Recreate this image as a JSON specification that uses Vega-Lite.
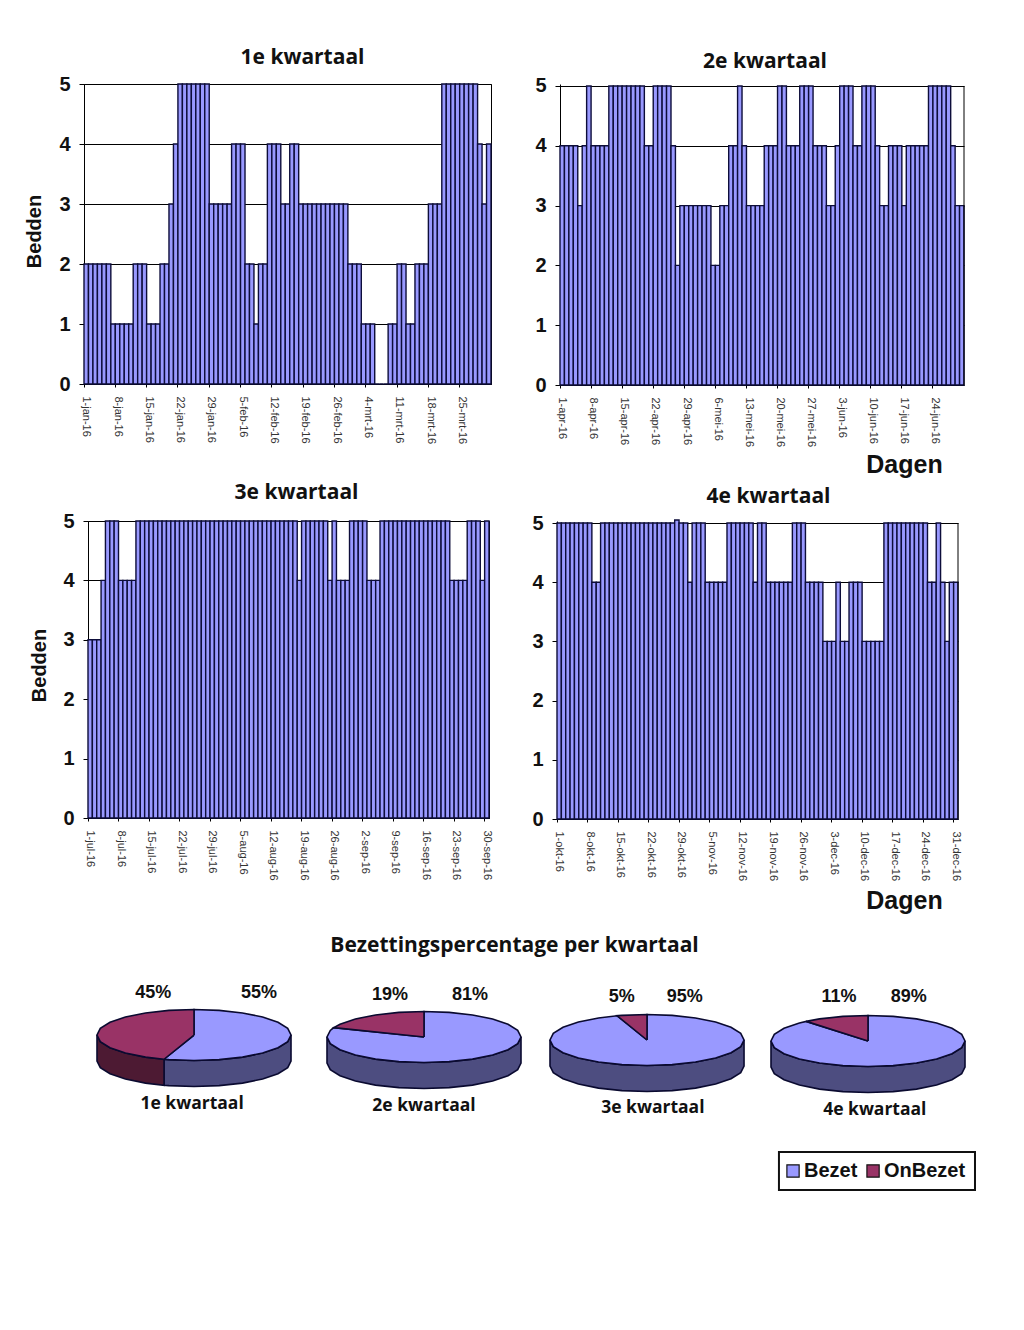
{"$schema":"https://vega.github.io/schema/vega-lite/v6.json","background":"white","padding":{"left":0,"top":46,"right":0,"bottom":0},"config":{"view":{"stroke":null},"axis":{"labelFont":"Liberation Sans","titleFont":"Liberation Sans"},"title":{"font":"Open Sans","fontWeight":"bold","fontSize":21,"color":"#111"}},
"datasets":{
"q1":[{"d":"1-jan-16","v":2},{"d":"2-jan-16","v":2},{"d":"3-jan-16","v":2},{"d":"4-jan-16","v":2},{"d":"5-jan-16","v":2},{"d":"6-jan-16","v":2},{"d":"7-jan-16","v":1},{"d":"8-jan-16","v":1},{"d":"9-jan-16","v":1},{"d":"10-jan-16","v":1},{"d":"11-jan-16","v":1},{"d":"12-jan-16","v":2},{"d":"13-jan-16","v":2},{"d":"14-jan-16","v":2},{"d":"15-jan-16","v":1},{"d":"16-jan-16","v":1},{"d":"17-jan-16","v":1},{"d":"18-jan-16","v":2},{"d":"19-jan-16","v":2},{"d":"20-jan-16","v":3},{"d":"21-jan-16","v":4},{"d":"22-jan-16","v":5},{"d":"23-jan-16","v":5},{"d":"24-jan-16","v":5},{"d":"25-jan-16","v":5},{"d":"26-jan-16","v":5},{"d":"27-jan-16","v":5},{"d":"28-jan-16","v":5},{"d":"29-jan-16","v":3},{"d":"30-jan-16","v":3},{"d":"31-jan-16","v":3},{"d":"1-feb-16","v":3},{"d":"2-feb-16","v":3},{"d":"3-feb-16","v":4},{"d":"4-feb-16","v":4},{"d":"5-feb-16","v":4},{"d":"6-feb-16","v":2},{"d":"7-feb-16","v":2},{"d":"8-feb-16","v":1},{"d":"9-feb-16","v":2},{"d":"10-feb-16","v":2},{"d":"11-feb-16","v":4},{"d":"12-feb-16","v":4},{"d":"13-feb-16","v":4},{"d":"14-feb-16","v":3},{"d":"15-feb-16","v":3},{"d":"16-feb-16","v":4},{"d":"17-feb-16","v":4},{"d":"18-feb-16","v":3},{"d":"19-feb-16","v":3},{"d":"20-feb-16","v":3},{"d":"21-feb-16","v":3},{"d":"22-feb-16","v":3},{"d":"23-feb-16","v":3},{"d":"24-feb-16","v":3},{"d":"25-feb-16","v":3},{"d":"26-feb-16","v":3},{"d":"27-feb-16","v":3},{"d":"28-feb-16","v":3},{"d":"29-feb-16","v":2},{"d":"1-mrt-16","v":2},{"d":"2-mrt-16","v":2},{"d":"3-mrt-16","v":1},{"d":"4-mrt-16","v":1},{"d":"5-mrt-16","v":1},{"d":"6-mrt-16","v":0},{"d":"7-mrt-16","v":0},{"d":"8-mrt-16","v":0},{"d":"9-mrt-16","v":1},{"d":"10-mrt-16","v":1},{"d":"11-mrt-16","v":2},{"d":"12-mrt-16","v":2},{"d":"13-mrt-16","v":1},{"d":"14-mrt-16","v":1},{"d":"15-mrt-16","v":2},{"d":"16-mrt-16","v":2},{"d":"17-mrt-16","v":2},{"d":"18-mrt-16","v":3},{"d":"19-mrt-16","v":3},{"d":"20-mrt-16","v":3},{"d":"21-mrt-16","v":5},{"d":"22-mrt-16","v":5},{"d":"23-mrt-16","v":5},{"d":"24-mrt-16","v":5},{"d":"25-mrt-16","v":5},{"d":"26-mrt-16","v":5},{"d":"27-mrt-16","v":5},{"d":"28-mrt-16","v":5},{"d":"29-mrt-16","v":4},{"d":"30-mrt-16","v":3},{"d":"31-mrt-16","v":4}],
"q2":[{"d":"1-apr-16","v":4},{"d":"2-apr-16","v":4},{"d":"3-apr-16","v":4},{"d":"4-apr-16","v":4},{"d":"5-apr-16","v":3},{"d":"6-apr-16","v":4},{"d":"7-apr-16","v":5},{"d":"8-apr-16","v":4},{"d":"9-apr-16","v":4},{"d":"10-apr-16","v":4},{"d":"11-apr-16","v":4},{"d":"12-apr-16","v":5},{"d":"13-apr-16","v":5},{"d":"14-apr-16","v":5},{"d":"15-apr-16","v":5},{"d":"16-apr-16","v":5},{"d":"17-apr-16","v":5},{"d":"18-apr-16","v":5},{"d":"19-apr-16","v":5},{"d":"20-apr-16","v":4},{"d":"21-apr-16","v":4},{"d":"22-apr-16","v":5},{"d":"23-apr-16","v":5},{"d":"24-apr-16","v":5},{"d":"25-apr-16","v":5},{"d":"26-apr-16","v":4},{"d":"27-apr-16","v":2},{"d":"28-apr-16","v":3},{"d":"29-apr-16","v":3},{"d":"30-apr-16","v":3},{"d":"1-mei-16","v":3},{"d":"2-mei-16","v":3},{"d":"3-mei-16","v":3},{"d":"4-mei-16","v":3},{"d":"5-mei-16","v":2},{"d":"6-mei-16","v":2},{"d":"7-mei-16","v":3},{"d":"8-mei-16","v":3},{"d":"9-mei-16","v":4},{"d":"10-mei-16","v":4},{"d":"11-mei-16","v":5},{"d":"12-mei-16","v":4},{"d":"13-mei-16","v":3},{"d":"14-mei-16","v":3},{"d":"15-mei-16","v":3},{"d":"16-mei-16","v":3},{"d":"17-mei-16","v":4},{"d":"18-mei-16","v":4},{"d":"19-mei-16","v":4},{"d":"20-mei-16","v":5},{"d":"21-mei-16","v":5},{"d":"22-mei-16","v":4},{"d":"23-mei-16","v":4},{"d":"24-mei-16","v":4},{"d":"25-mei-16","v":5},{"d":"26-mei-16","v":5},{"d":"27-mei-16","v":5},{"d":"28-mei-16","v":4},{"d":"29-mei-16","v":4},{"d":"30-mei-16","v":4},{"d":"31-mei-16","v":3},{"d":"1-jun-16","v":3},{"d":"2-jun-16","v":4},{"d":"3-jun-16","v":5},{"d":"4-jun-16","v":5},{"d":"5-jun-16","v":5},{"d":"6-jun-16","v":4},{"d":"7-jun-16","v":4},{"d":"8-jun-16","v":5},{"d":"9-jun-16","v":5},{"d":"10-jun-16","v":5},{"d":"11-jun-16","v":4},{"d":"12-jun-16","v":3},{"d":"13-jun-16","v":3},{"d":"14-jun-16","v":4},{"d":"15-jun-16","v":4},{"d":"16-jun-16","v":4},{"d":"17-jun-16","v":3},{"d":"18-jun-16","v":4},{"d":"19-jun-16","v":4},{"d":"20-jun-16","v":4},{"d":"21-jun-16","v":4},{"d":"22-jun-16","v":4},{"d":"23-jun-16","v":5},{"d":"24-jun-16","v":5},{"d":"25-jun-16","v":5},{"d":"26-jun-16","v":5},{"d":"27-jun-16","v":5},{"d":"28-jun-16","v":4},{"d":"29-jun-16","v":3},{"d":"30-jun-16","v":3}],
"q3":[{"d":"1-jul-16","v":3},{"d":"2-jul-16","v":3},{"d":"3-jul-16","v":3},{"d":"4-jul-16","v":4},{"d":"5-jul-16","v":5},{"d":"6-jul-16","v":5},{"d":"7-jul-16","v":5},{"d":"8-jul-16","v":4},{"d":"9-jul-16","v":4},{"d":"10-jul-16","v":4},{"d":"11-jul-16","v":4},{"d":"12-jul-16","v":5},{"d":"13-jul-16","v":5},{"d":"14-jul-16","v":5},{"d":"15-jul-16","v":5},{"d":"16-jul-16","v":5},{"d":"17-jul-16","v":5},{"d":"18-jul-16","v":5},{"d":"19-jul-16","v":5},{"d":"20-jul-16","v":5},{"d":"21-jul-16","v":5},{"d":"22-jul-16","v":5},{"d":"23-jul-16","v":5},{"d":"24-jul-16","v":5},{"d":"25-jul-16","v":5},{"d":"26-jul-16","v":5},{"d":"27-jul-16","v":5},{"d":"28-jul-16","v":5},{"d":"29-jul-16","v":5},{"d":"30-jul-16","v":5},{"d":"31-jul-16","v":5},{"d":"1-aug-16","v":5},{"d":"2-aug-16","v":5},{"d":"3-aug-16","v":5},{"d":"4-aug-16","v":5},{"d":"5-aug-16","v":5},{"d":"6-aug-16","v":5},{"d":"7-aug-16","v":5},{"d":"8-aug-16","v":5},{"d":"9-aug-16","v":5},{"d":"10-aug-16","v":5},{"d":"11-aug-16","v":5},{"d":"12-aug-16","v":5},{"d":"13-aug-16","v":5},{"d":"14-aug-16","v":5},{"d":"15-aug-16","v":5},{"d":"16-aug-16","v":5},{"d":"17-aug-16","v":5},{"d":"18-aug-16","v":4},{"d":"19-aug-16","v":5},{"d":"20-aug-16","v":5},{"d":"21-aug-16","v":5},{"d":"22-aug-16","v":5},{"d":"23-aug-16","v":5},{"d":"24-aug-16","v":5},{"d":"25-aug-16","v":4},{"d":"26-aug-16","v":5},{"d":"27-aug-16","v":4},{"d":"28-aug-16","v":4},{"d":"29-aug-16","v":4},{"d":"30-aug-16","v":5},{"d":"31-aug-16","v":5},{"d":"1-sep-16","v":5},{"d":"2-sep-16","v":5},{"d":"3-sep-16","v":4},{"d":"4-sep-16","v":4},{"d":"5-sep-16","v":4},{"d":"6-sep-16","v":5},{"d":"7-sep-16","v":5},{"d":"8-sep-16","v":5},{"d":"9-sep-16","v":5},{"d":"10-sep-16","v":5},{"d":"11-sep-16","v":5},{"d":"12-sep-16","v":5},{"d":"13-sep-16","v":5},{"d":"14-sep-16","v":5},{"d":"15-sep-16","v":5},{"d":"16-sep-16","v":5},{"d":"17-sep-16","v":5},{"d":"18-sep-16","v":5},{"d":"19-sep-16","v":5},{"d":"20-sep-16","v":5},{"d":"21-sep-16","v":5},{"d":"22-sep-16","v":4},{"d":"23-sep-16","v":4},{"d":"24-sep-16","v":4},{"d":"25-sep-16","v":4},{"d":"26-sep-16","v":5},{"d":"27-sep-16","v":5},{"d":"28-sep-16","v":5},{"d":"29-sep-16","v":4},{"d":"30-sep-16","v":5}],
"q4":[{"d":"1-okt-16","v":5},{"d":"2-okt-16","v":5},{"d":"3-okt-16","v":5},{"d":"4-okt-16","v":5},{"d":"5-okt-16","v":5},{"d":"6-okt-16","v":5},{"d":"7-okt-16","v":5},{"d":"8-okt-16","v":5},{"d":"9-okt-16","v":4},{"d":"10-okt-16","v":4},{"d":"11-okt-16","v":5},{"d":"12-okt-16","v":5},{"d":"13-okt-16","v":5},{"d":"14-okt-16","v":5},{"d":"15-okt-16","v":5},{"d":"16-okt-16","v":5},{"d":"17-okt-16","v":5},{"d":"18-okt-16","v":5},{"d":"19-okt-16","v":5},{"d":"20-okt-16","v":5},{"d":"21-okt-16","v":5},{"d":"22-okt-16","v":5},{"d":"23-okt-16","v":5},{"d":"24-okt-16","v":5},{"d":"25-okt-16","v":5},{"d":"26-okt-16","v":5},{"d":"27-okt-16","v":5},{"d":"28-okt-16","v":5.05},{"d":"29-okt-16","v":5},{"d":"30-okt-16","v":5},{"d":"31-okt-16","v":4},{"d":"1-nov-16","v":5},{"d":"2-nov-16","v":5},{"d":"3-nov-16","v":5},{"d":"4-nov-16","v":4},{"d":"5-nov-16","v":4},{"d":"6-nov-16","v":4},{"d":"7-nov-16","v":4},{"d":"8-nov-16","v":4},{"d":"9-nov-16","v":5},{"d":"10-nov-16","v":5},{"d":"11-nov-16","v":5},{"d":"12-nov-16","v":5},{"d":"13-nov-16","v":5},{"d":"14-nov-16","v":5},{"d":"15-nov-16","v":4},{"d":"16-nov-16","v":5},{"d":"17-nov-16","v":5},{"d":"18-nov-16","v":4},{"d":"19-nov-16","v":4},{"d":"20-nov-16","v":4},{"d":"21-nov-16","v":4},{"d":"22-nov-16","v":4},{"d":"23-nov-16","v":4},{"d":"24-nov-16","v":5},{"d":"25-nov-16","v":5},{"d":"26-nov-16","v":5},{"d":"27-nov-16","v":4},{"d":"28-nov-16","v":4},{"d":"29-nov-16","v":4},{"d":"30-nov-16","v":4},{"d":"1-dec-16","v":3},{"d":"2-dec-16","v":3},{"d":"3-dec-16","v":3},{"d":"4-dec-16","v":4},{"d":"5-dec-16","v":3},{"d":"6-dec-16","v":3},{"d":"7-dec-16","v":4},{"d":"8-dec-16","v":4},{"d":"9-dec-16","v":4},{"d":"10-dec-16","v":3},{"d":"11-dec-16","v":3},{"d":"12-dec-16","v":3},{"d":"13-dec-16","v":3},{"d":"14-dec-16","v":3},{"d":"15-dec-16","v":5},{"d":"16-dec-16","v":5},{"d":"17-dec-16","v":5},{"d":"18-dec-16","v":5},{"d":"19-dec-16","v":5},{"d":"20-dec-16","v":5},{"d":"21-dec-16","v":5},{"d":"22-dec-16","v":5},{"d":"23-dec-16","v":5},{"d":"24-dec-16","v":5},{"d":"25-dec-16","v":4},{"d":"26-dec-16","v":4},{"d":"27-dec-16","v":5},{"d":"28-dec-16","v":4},{"d":"29-dec-16","v":3},{"d":"30-dec-16","v":4},{"d":"31-dec-16","v":4}],
"pie1":[{"p":"Bezet zijkant","x":1,"y":0},{"p":"Bezet zijkant","x":0.966,"y":-0.259},{"p":"Bezet zijkant","x":0.866,"y":-0.5},{"p":"Bezet zijkant","x":0.707,"y":-0.707},{"p":"Bezet zijkant","x":0.5,"y":-0.866},{"p":"Bezet zijkant","x":0.259,"y":-0.966},{"p":"Bezet zijkant","x":0,"y":-1},{"p":"Bezet zijkant","x":-0.259,"y":-0.966},{"p":"Bezet zijkant","x":-0.309,"y":-0.951},{"p":"Bezet zijkant","x":-0.309,"y":-1.971},{"p":"Bezet zijkant","x":-0.259,"y":-1.986},{"p":"Bezet zijkant","x":0,"y":-2.02},{"p":"Bezet zijkant","x":0.259,"y":-1.986},{"p":"Bezet zijkant","x":0.5,"y":-1.886},{"p":"Bezet zijkant","x":0.707,"y":-1.727},{"p":"Bezet zijkant","x":0.866,"y":-1.52},{"p":"Bezet zijkant","x":0.966,"y":-1.279},{"p":"Bezet zijkant","x":1,"y":-1.02},{"p":"Bezet zijkant","x":1,"y":0},
{"p":"OnBezet zijkant","x":-0.309,"y":-0.951},{"p":"OnBezet zijkant","x":-0.5,"y":-0.866},{"p":"OnBezet zijkant","x":-0.707,"y":-0.707},{"p":"OnBezet zijkant","x":-0.866,"y":-0.5},{"p":"OnBezet zijkant","x":-0.966,"y":-0.259},{"p":"OnBezet zijkant","x":-1,"y":0},{"p":"OnBezet zijkant","x":-1,"y":-1.02},{"p":"OnBezet zijkant","x":-0.966,"y":-1.279},{"p":"OnBezet zijkant","x":-0.866,"y":-1.52},{"p":"OnBezet zijkant","x":-0.707,"y":-1.727},{"p":"OnBezet zijkant","x":-0.5,"y":-1.886},{"p":"OnBezet zijkant","x":-0.309,"y":-1.971},{"p":"OnBezet zijkant","x":-0.309,"y":-0.951},
{"p":"Bezet","x":0,"y":0},{"p":"Bezet","x":0,"y":1},{"p":"Bezet","x":0.259,"y":0.966},{"p":"Bezet","x":0.5,"y":0.866},{"p":"Bezet","x":0.707,"y":0.707},{"p":"Bezet","x":0.866,"y":0.5},{"p":"Bezet","x":0.966,"y":0.259},{"p":"Bezet","x":1,"y":0},{"p":"Bezet","x":0.966,"y":-0.259},{"p":"Bezet","x":0.866,"y":-0.5},{"p":"Bezet","x":0.707,"y":-0.707},{"p":"Bezet","x":0.5,"y":-0.866},{"p":"Bezet","x":0.259,"y":-0.966},{"p":"Bezet","x":0,"y":-1},{"p":"Bezet","x":-0.259,"y":-0.966},{"p":"Bezet","x":-0.309,"y":-0.951},{"p":"Bezet","x":0,"y":0},
{"p":"OnBezet","x":0,"y":0},{"p":"OnBezet","x":-0.309,"y":-0.951},{"p":"OnBezet","x":-0.5,"y":-0.866},{"p":"OnBezet","x":-0.707,"y":-0.707},{"p":"OnBezet","x":-0.866,"y":-0.5},{"p":"OnBezet","x":-0.966,"y":-0.259},{"p":"OnBezet","x":-1,"y":0},{"p":"OnBezet","x":-0.966,"y":0.259},{"p":"OnBezet","x":-0.866,"y":0.5},{"p":"OnBezet","x":-0.707,"y":0.707},{"p":"OnBezet","x":-0.5,"y":0.866},{"p":"OnBezet","x":-0.259,"y":0.966},{"p":"OnBezet","x":0,"y":1},{"p":"OnBezet","x":0,"y":0}],
"wand":[{"p":"Bezet zijkant","x":1,"y":0},{"p":"Bezet zijkant","x":0.966,"y":-0.259},{"p":"Bezet zijkant","x":0.866,"y":-0.5},{"p":"Bezet zijkant","x":0.707,"y":-0.707},{"p":"Bezet zijkant","x":0.5,"y":-0.866},{"p":"Bezet zijkant","x":0.259,"y":-0.966},{"p":"Bezet zijkant","x":0,"y":-1},{"p":"Bezet zijkant","x":-0.259,"y":-0.966},{"p":"Bezet zijkant","x":-0.5,"y":-0.866},{"p":"Bezet zijkant","x":-0.707,"y":-0.707},{"p":"Bezet zijkant","x":-0.866,"y":-0.5},{"p":"Bezet zijkant","x":-0.966,"y":-0.259},{"p":"Bezet zijkant","x":-1,"y":0},{"p":"Bezet zijkant","x":-1,"y":-1.02},{"p":"Bezet zijkant","x":-0.966,"y":-1.279},{"p":"Bezet zijkant","x":-0.866,"y":-1.52},{"p":"Bezet zijkant","x":-0.707,"y":-1.727},{"p":"Bezet zijkant","x":-0.5,"y":-1.886},{"p":"Bezet zijkant","x":-0.259,"y":-1.986},{"p":"Bezet zijkant","x":0,"y":-2.02},{"p":"Bezet zijkant","x":0.259,"y":-1.986},{"p":"Bezet zijkant","x":0.5,"y":-1.886},{"p":"Bezet zijkant","x":0.707,"y":-1.727},{"p":"Bezet zijkant","x":0.866,"y":-1.52},{"p":"Bezet zijkant","x":0.966,"y":-1.279},{"p":"Bezet zijkant","x":1,"y":-1.02},{"p":"Bezet zijkant","x":1,"y":0}],
"pie2":[{"p":"Bezet","x":0,"y":0},{"p":"Bezet","x":0,"y":1},{"p":"Bezet","x":0.259,"y":0.966},{"p":"Bezet","x":0.5,"y":0.866},{"p":"Bezet","x":0.707,"y":0.707},{"p":"Bezet","x":0.866,"y":0.5},{"p":"Bezet","x":0.966,"y":0.259},{"p":"Bezet","x":1,"y":0},{"p":"Bezet","x":0.966,"y":-0.259},{"p":"Bezet","x":0.866,"y":-0.5},{"p":"Bezet","x":0.707,"y":-0.707},{"p":"Bezet","x":0.5,"y":-0.866},{"p":"Bezet","x":0.259,"y":-0.966},{"p":"Bezet","x":0,"y":-1},{"p":"Bezet","x":-0.259,"y":-0.966},{"p":"Bezet","x":-0.5,"y":-0.866},{"p":"Bezet","x":-0.707,"y":-0.707},{"p":"Bezet","x":-0.866,"y":-0.5},{"p":"Bezet","x":-0.966,"y":-0.259},{"p":"Bezet","x":-1,"y":0},{"p":"Bezet","x":-0.966,"y":0.259},{"p":"Bezet","x":-0.93,"y":0.368},{"p":"Bezet","x":0,"y":0},
{"p":"OnBezet","x":0,"y":0},{"p":"OnBezet","x":-0.93,"y":0.368},{"p":"OnBezet","x":-0.866,"y":0.5},{"p":"OnBezet","x":-0.707,"y":0.707},{"p":"OnBezet","x":-0.5,"y":0.866},{"p":"OnBezet","x":-0.259,"y":0.966},{"p":"OnBezet","x":0,"y":1},{"p":"OnBezet","x":0,"y":0}],
"pie3":[{"p":"Bezet","x":0,"y":0},{"p":"Bezet","x":0,"y":1},{"p":"Bezet","x":0.259,"y":0.966},{"p":"Bezet","x":0.5,"y":0.866},{"p":"Bezet","x":0.707,"y":0.707},{"p":"Bezet","x":0.866,"y":0.5},{"p":"Bezet","x":0.966,"y":0.259},{"p":"Bezet","x":1,"y":0},{"p":"Bezet","x":0.966,"y":-0.259},{"p":"Bezet","x":0.866,"y":-0.5},{"p":"Bezet","x":0.707,"y":-0.707},{"p":"Bezet","x":0.5,"y":-0.866},{"p":"Bezet","x":0.259,"y":-0.966},{"p":"Bezet","x":0,"y":-1},{"p":"Bezet","x":-0.259,"y":-0.966},{"p":"Bezet","x":-0.5,"y":-0.866},{"p":"Bezet","x":-0.707,"y":-0.707},{"p":"Bezet","x":-0.866,"y":-0.5},{"p":"Bezet","x":-0.966,"y":-0.259},{"p":"Bezet","x":-1,"y":0},{"p":"Bezet","x":-0.966,"y":0.259},{"p":"Bezet","x":-0.866,"y":0.5},{"p":"Bezet","x":-0.707,"y":0.707},{"p":"Bezet","x":-0.5,"y":0.866},{"p":"Bezet","x":-0.309,"y":0.951},{"p":"Bezet","x":0,"y":0},
{"p":"OnBezet","x":0,"y":0},{"p":"OnBezet","x":-0.309,"y":0.951},{"p":"OnBezet","x":-0.259,"y":0.966},{"p":"OnBezet","x":0,"y":1},{"p":"OnBezet","x":0,"y":0}],
"pie4":[{"p":"Bezet","x":0,"y":0},{"p":"Bezet","x":0,"y":1},{"p":"Bezet","x":0.259,"y":0.966},{"p":"Bezet","x":0.5,"y":0.866},{"p":"Bezet","x":0.707,"y":0.707},{"p":"Bezet","x":0.866,"y":0.5},{"p":"Bezet","x":0.966,"y":0.259},{"p":"Bezet","x":1,"y":0},{"p":"Bezet","x":0.966,"y":-0.259},{"p":"Bezet","x":0.866,"y":-0.5},{"p":"Bezet","x":0.707,"y":-0.707},{"p":"Bezet","x":0.5,"y":-0.866},{"p":"Bezet","x":0.259,"y":-0.966},{"p":"Bezet","x":0,"y":-1},{"p":"Bezet","x":-0.259,"y":-0.966},{"p":"Bezet","x":-0.5,"y":-0.866},{"p":"Bezet","x":-0.707,"y":-0.707},{"p":"Bezet","x":-0.866,"y":-0.5},{"p":"Bezet","x":-0.966,"y":-0.259},{"p":"Bezet","x":-1,"y":0},{"p":"Bezet","x":-0.966,"y":0.259},{"p":"Bezet","x":-0.866,"y":0.5},{"p":"Bezet","x":-0.707,"y":0.707},{"p":"Bezet","x":-0.637,"y":0.77},{"p":"Bezet","x":0,"y":0},
{"p":"OnBezet","x":0,"y":0},{"p":"OnBezet","x":-0.637,"y":0.77},{"p":"OnBezet","x":-0.5,"y":0.866},{"p":"OnBezet","x":-0.259,"y":0.966},{"p":"OnBezet","x":0,"y":1},{"p":"OnBezet","x":0,"y":0}],
"lab":[{"pie":1,"k":"pct","t":"45%","x":-0.42,"y":1.65},{"pie":1,"k":"pct","t":"55%","x":0.67,"y":1.65},{"pie":1,"k":"cap","t":"1e kwartaal","x":-0.02,"y":-2.71},
{"pie":2,"k":"pct","t":"19%","x":-0.35,"y":1.65},{"pie":2,"k":"pct","t":"81%","x":0.474,"y":1.65},{"pie":2,"k":"cap","t":"2e kwartaal","x":0,"y":-2.71},
{"pie":3,"k":"pct","t":"5%","x":-0.26,"y":1.69},{"pie":3,"k":"pct","t":"95%","x":0.39,"y":1.69},{"pie":3,"k":"cap","t":"3e kwartaal","x":0.06,"y":-2.67},
{"pie":4,"k":"pct","t":"11%","x":-0.3,"y":1.73},{"pie":4,"k":"pct","t":"89%","x":0.42,"y":1.73},{"pie":4,"k":"cap","t":"4e kwartaal","x":0.07,"y":-2.71}],
"legendaKader":[{"x":-0.918,"x2":1.103,"y":-4.353,"y2":-5.843}],
"legenda":[{"p":"Bezet","t":"Bezet","sx":-0.773,"x":-0.66,"y":-5.098},{"p":"OnBezet","t":"OnBezet","sx":0.052,"x":0.165,"y":-5.098}]
},
"spacing":437,"bounds":"flush","center":false,
"vconcat":[
{"spacing":0,"bounds":"flush","center":false,"hconcat":[
{"width":84,"height":1,"data":{"values":[]},"mark":"point"},
{"width":407,"height":300,"view":{"stroke":"#000"},"title":{"text":"1e kwartaal","dx":15,"offset":6},"data":{"name":"q1"},"mark":{"type":"bar","fill":"#9999FF","stroke":"#0d0d3a","strokeWidth":1.4},
"encoding":{"x":{"field":"d","type":"nominal","sort":null,"scale":{"padding":0},"axis":{"title":null,"bandPosition":0,"values":["1-jan-16","8-jan-16","15-jan-16","22-jan-16","29-jan-16","5-feb-16","12-feb-16","19-feb-16","26-feb-16","4-mrt-16","11-mrt-16","18-mrt-16","25-mrt-16"],"labelAngle":90,"labelFontSize":11,"labelColor":"#333","labelPadding":9,"tickSize":3,"tickColor":"#000","domainColor":"#000","labelOverlap":false}},
"y":{"field":"v","type":"quantitative","scale":{"domain":[0,5],"nice":false},"axis":{"title":"Bedden","titleFontSize":20,"titleFontWeight":"bold","titleColor":"#111","titleX":-50,"titleY":147,"titleBaseline":"middle","values":[0,1,2,3,4,5],"format":"d","labelFontSize":20,"labelFontWeight":"bold","labelColor":"#111","labelPadding":9,"tickSize":5,"tickColor":"#000","domainColor":"#000","grid":true,"gridColor":"#000"}}}},
{"width":69,"height":1,"data":{"values":[]},"mark":"point"},
{"width":404,"height":301,"title":{"text":"2e kwartaal","dx":3,"offset":4},
"encoding":{"x":{"field":"d","type":"nominal","sort":null,"scale":{"padding":0},"axis":{"title":"Dagen","titleX":344,"titleY":67,"titleFontSize":25,"titleFontWeight":"bold","titleColor":"#111","bandPosition":0,"values":["1-apr-16","8-apr-16","15-apr-16","22-apr-16","29-apr-16","6-mei-16","13-mei-16","20-mei-16","27-mei-16","3-jun-16","10-jun-16","17-jun-16","24-jun-16"],"labelAngle":90,"labelFontSize":11,"labelColor":"#333","labelPadding":9,"tickSize":3,"tickColor":"#000","domainColor":"#000","labelOverlap":false}},
"y":{"field":"v","type":"quantitative","scale":{"domain":[0,5.033],"nice":false},"axis":{"title":null,"values":[0,1,2,3,4,5],"format":"d","labelFontSize":20,"labelFontWeight":"bold","labelColor":"#111","labelPadding":9,"tickSize":5,"tickColor":"#000","domainColor":"#000","grid":true,"gridColor":"#000"}}},
"layer":[{"data":{"name":"q2"},"mark":{"type":"bar","fill":"#9999FF","stroke":"#0d0d3a","strokeWidth":1.4}},
{"data":{"name":"q2"},"transform":[{"filter":"datum.d=='30-jun-16'"}],"mark":{"type":"rule","stroke":"#000","strokeWidth":1},"encoding":{"x":{"field":"d","type":"nominal","bandPosition":1},"y":{"datum":0},"y2":{"datum":5}}}]}
]},
{"spacing":0,"bounds":"flush","center":false,"hconcat":[
{"width":88,"height":1,"data":{"values":[]},"mark":"point"},
{"width":401,"height":297,"view":{"stroke":"#000"},"title":{"text":"3e kwartaal","dx":8,"offset":8},"data":{"name":"q3"},"mark":{"type":"bar","fill":"#9999FF","stroke":"#0d0d3a","strokeWidth":1.4},
"encoding":{"x":{"field":"d","type":"nominal","sort":null,"scale":{"padding":0},"axis":{"title":null,"bandPosition":0,"values":["1-jul-16","8-jul-16","15-jul-16","22-jul-16","29-jul-16","5-aug-16","12-aug-16","19-aug-16","26-aug-16","2-sep-16","9-sep-16","16-sep-16","23-sep-16","30-sep-16"],"labelAngle":90,"labelFontSize":11,"labelColor":"#333","labelPadding":9,"tickSize":3,"tickColor":"#000","domainColor":"#000","labelOverlap":false}},
"y":{"field":"v","type":"quantitative","scale":{"domain":[0,5],"nice":false},"axis":{"title":"Bedden","titleFontSize":20,"titleFontWeight":"bold","titleColor":"#111","titleX":-49,"titleY":144,"titleBaseline":"middle","values":[0,1,2,3,4,5],"format":"d","labelFontSize":20,"labelFontWeight":"bold","labelColor":"#111","labelPadding":9,"tickSize":5,"tickColor":"#000","domainColor":"#000","grid":true,"gridColor":"#000"}}}},
{"width":68,"height":1,"data":{"values":[]},"mark":"point"},
{"width":401,"height":298,"title":{"text":"4e kwartaal","dx":11,"offset":6},
"encoding":{"x":{"field":"d","type":"nominal","sort":null,"scale":{"padding":0},"axis":{"title":"Dagen","titleX":347,"titleY":69,"titleFontSize":25,"titleFontWeight":"bold","titleColor":"#111","bandPosition":0,"values":["1-okt-16","8-okt-16","15-okt-16","22-okt-16","29-okt-16","5-nov-16","12-nov-16","19-nov-16","26-nov-16","3-dec-16","10-dec-16","17-dec-16","24-dec-16","31-dec-16"],"labelAngle":90,"labelFontSize":11,"labelColor":"#333","labelPadding":9,"tickSize":3,"tickColor":"#000","domainColor":"#000","labelOverlap":false}},
"y":{"field":"v","type":"quantitative","scale":{"domain":[0,5.034],"nice":false},"axis":{"title":null,"values":[0,1,2,3,4,5],"format":"d","labelFontSize":20,"labelFontWeight":"bold","labelColor":"#111","labelPadding":9,"tickSize":5,"tickColor":"#000","domainColor":"#000","grid":true,"gridColor":"#000"}}},
"layer":[{"data":{"name":"q4"},"mark":{"type":"bar","fill":"#9999FF","stroke":"#0d0d3a","strokeWidth":1.4}},
{"data":{"name":"q4"},"transform":[{"filter":"datum.d=='31-dec-16'"}],"mark":{"type":"rule","stroke":"#000","strokeWidth":1},"encoding":{"x":{"field":"d","type":"nominal","bandPosition":1},"y":{"datum":0},"y2":{"datum":5}}}]}
]},
{"spacing":0,"bounds":"flush","center":false,"hconcat":[
{"width":327,"height":160,"encoding":{"x":{"field":"x","type":"quantitative","axis":null,"scale":{"domain":[-2,1.371],"nice":false,"zero":false}},"y":{"field":"y","type":"quantitative","axis":null,"scale":{"domain":[-3.255,3.02],"nice":false,"zero":false}}},
"layer":[
{"data":{"name":"pie1"},"mark":{"type":"line","stroke":"#0a0a30","strokeWidth":1.6},"encoding":{"order":{"value":null},"fill":{"field":"p","type":"nominal","legend":null,"scale":{"domain":["Bezet","OnBezet","Bezet zijkant","OnBezet zijkant"],"range":["#9999FF","#993366","#4D4D80","#4D1A33"]}}}},
{"data":{"name":"lab"},"transform":[{"filter":"datum.pie==1 && datum.k=='pct'"}],"mark":{"type":"text","font":"Liberation Sans","fontWeight":"bold","fontSize":18,"fill":"#111"},"encoding":{"text":{"field":"t"}}},
{"data":{"name":"lab"},"transform":[{"filter":"datum.pie==1 && datum.k=='cap'"}],"mark":{"type":"text","font":"Open Sans","fontWeight":"bold","fontSize":17.5,"fill":"#111"},"encoding":{"text":{"field":"t"}}}]},
{"width":223,"height":160,"title":{"text":"Bezettingspercentage per kwartaal","dx":76,"offset":2},"encoding":{"x":{"field":"x","type":"quantitative","axis":null,"scale":{"domain":[-1,1.299],"nice":false,"zero":false}},"y":{"field":"y","type":"quantitative","axis":null,"scale":{"domain":[-3.176,3.098],"nice":false,"zero":false}}},
"layer":[
{"data":{"name":"wand"},"mark":{"type":"line","stroke":"#0a0a30","strokeWidth":1.6},"encoding":{"order":{"value":null},"fill":{"field":"p","type":"nominal","legend":null,"scale":{"domain":["Bezet","OnBezet","Bezet zijkant","OnBezet zijkant"],"range":["#9999FF","#993366","#4D4D80","#4D1A33"]}}}},
{"data":{"name":"pie2"},"mark":{"type":"line","stroke":"#0a0a30","strokeWidth":1.6},"encoding":{"order":{"value":null},"fill":{"field":"p","type":"nominal","legend":null}}},
{"data":{"name":"lab"},"transform":[{"filter":"datum.pie==2 && datum.k=='pct'"}],"mark":{"type":"text","font":"Liberation Sans","fontWeight":"bold","fontSize":18,"fill":"#111"},"encoding":{"text":{"field":"t"}}},
{"data":{"name":"lab"},"transform":[{"filter":"datum.pie==2 && datum.k=='cap'"}],"mark":{"type":"text","font":"Open Sans","fontWeight":"bold","fontSize":17.5,"fill":"#111"},"encoding":{"text":{"field":"t"}}}]},
{"width":221,"height":160,"encoding":{"x":{"field":"x","type":"quantitative","axis":null,"scale":{"domain":[-1,1.278],"nice":false,"zero":false}},"y":{"field":"y","type":"quantitative","axis":null,"scale":{"domain":[-3.059,3.216],"nice":false,"zero":false}}},
"layer":[
{"data":{"name":"wand"},"mark":{"type":"line","stroke":"#0a0a30","strokeWidth":1.6},"encoding":{"order":{"value":null},"fill":{"field":"p","type":"nominal","legend":null,"scale":{"domain":["Bezet","OnBezet","Bezet zijkant","OnBezet zijkant"],"range":["#9999FF","#993366","#4D4D80","#4D1A33"]}}}},
{"data":{"name":"pie3"},"mark":{"type":"line","stroke":"#0a0a30","strokeWidth":1.6},"encoding":{"order":{"value":null},"fill":{"field":"p","type":"nominal","legend":null}}},
{"data":{"name":"lab"},"transform":[{"filter":"datum.pie==3 && datum.k=='pct'"}],"mark":{"type":"text","font":"Liberation Sans","fontWeight":"bold","fontSize":18,"fill":"#111"},"encoding":{"text":{"field":"t"}}},
{"data":{"name":"lab"},"transform":[{"filter":"datum.pie==3 && datum.k=='cap'"}],"mark":{"type":"text","font":"Open Sans","fontWeight":"bold","fontSize":17.5,"fill":"#111"},"encoding":{"text":{"field":"t"}}}]},
{"width":194,"height":160,"encoding":{"x":{"field":"x","type":"quantitative","axis":null,"scale":{"domain":[-1,1],"nice":false,"zero":false}},"y":{"field":"y","type":"quantitative","axis":null,"scale":{"domain":[-3.02,3.255],"nice":false,"zero":false}}},
"layer":[
{"data":{"name":"wand"},"mark":{"type":"line","stroke":"#0a0a30","strokeWidth":1.6},"encoding":{"order":{"value":null},"fill":{"field":"p","type":"nominal","legend":null,"scale":{"domain":["Bezet","OnBezet","Bezet zijkant","OnBezet zijkant"],"range":["#9999FF","#993366","#4D4D80","#4D1A33"]}}}},
{"data":{"name":"pie4"},"mark":{"type":"line","stroke":"#0a0a30","strokeWidth":1.6},"encoding":{"order":{"value":null},"fill":{"field":"p","type":"nominal","legend":null}}},
{"data":{"name":"lab"},"transform":[{"filter":"datum.pie==4 && datum.k=='pct'"}],"mark":{"type":"text","font":"Liberation Sans","fontWeight":"bold","fontSize":18,"fill":"#111"},"encoding":{"text":{"field":"t"}}},
{"data":{"name":"lab"},"transform":[{"filter":"datum.pie==4 && datum.k=='cap'"}],"mark":{"type":"text","font":"Open Sans","fontWeight":"bold","fontSize":17.5,"fill":"#111"},"encoding":{"text":{"field":"t"}}},
{"data":{"name":"legendaKader"},"mark":{"type":"rect","fill":"white","stroke":"#111","strokeWidth":2},"encoding":{"x2":{"field":"x2"},"y2":{"field":"y2"}}},
{"data":{"name":"legenda"},"mark":{"type":"point","shape":"square","filled":true,"size":150,"stroke":"#111","strokeWidth":1.2,"opacity":1},"encoding":{"x":{"field":"sx","type":"quantitative"},"fill":{"field":"p","type":"nominal","legend":null}}},
{"data":{"name":"legenda"},"mark":{"type":"text","align":"left","font":"Liberation Sans","fontWeight":"bold","fontSize":20,"fill":"#111"},"encoding":{"text":{"field":"t"}}}]}
]}
]}
